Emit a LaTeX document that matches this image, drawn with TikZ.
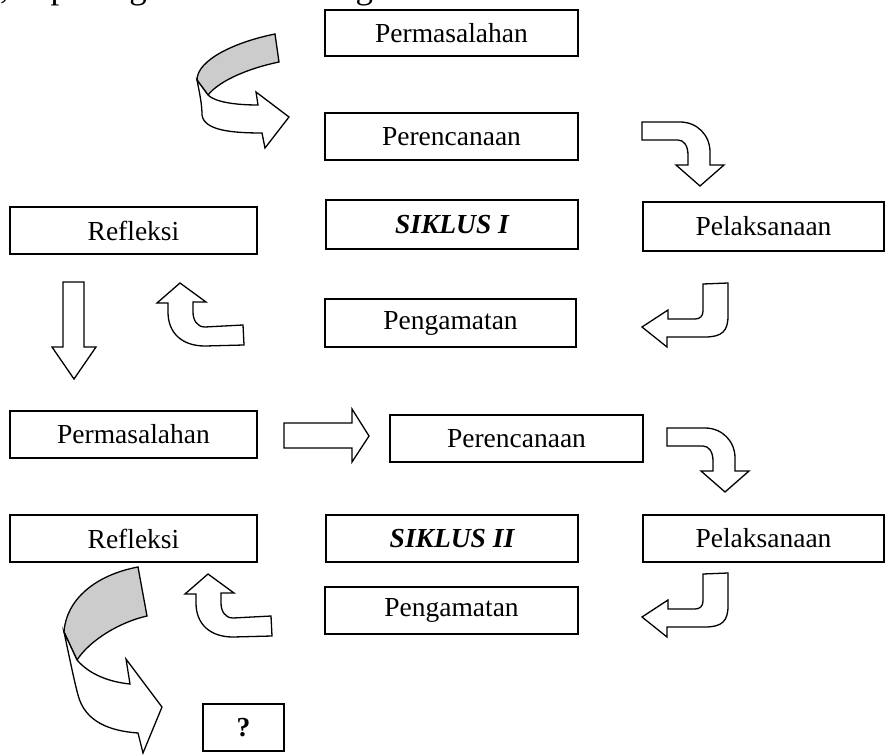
\documentclass[tikz,border=0pt]{standalone}
\usepackage{fontspec}
\setmainfont{Liberation Serif}
\tikzset{
  box/.style={draw, line width=1.4, minimum width=#1, minimum height=47, inner sep=0,
    font=\fontsize{27.5}{33}\selectfont},
  blk/.style={draw, line width=1.3, fill=white, line join=miter},
  ribbongray/.style={draw, line width=1.3, fill=gray!40, line join=miter},
}
\newcommand\bentRD{(642,122) -- (680,122) .. controls (697,122) and (710,135) .. (710,152) -- (710,165) -- (724,165) -- (700,186) -- (676,165) -- (688,165) -- (688,155) .. controls (688,146) and (684,140) .. (678,140) -- (642,140) -- cycle}
\newcommand\bentDL{(703,284) -- (728,283) -- (728,316) .. controls (728,331) and (722,337) .. (705,337) -- (667,337) -- (667,347) -- (642,327) -- (668,310) -- (668,319) -- (695,319) .. controls (700,319) and (703,316) .. (703,311) -- cycle}
\newcommand\curvUp{(168,303) -- (168,312) .. controls (168,333) and (182,346) .. (205,346) -- (244,345) -- (243,325) -- (205,327) .. controls (197,327) and (193,320) .. (193,312) -- (193,302) -- (206,302) -- (180,283) -- (157,303) -- cycle}
\begin{document}
\begin{tikzpicture}[x=1pt,y=-1pt]
\useasboundingbox (0,0) rectangle (885,754);
\node[anchor=base west, inner sep=0, outer sep=0, font=\fontsize{35}{40}\selectfont] (intro) at (0,-1) {, dapat digambarkan sebagai berikut:};
% boxes
\node[box=253, minimum height=46] (perm1) at (451.5,33) {Permasalahan};
\node[box=253] (ren1) at (451.5,136.5) {Perencanaan};
\node[box=252, minimum height=49] (sik1) at (452,224.5) {\bfseries\itshape SIKLUS I};
\node[box=247] (ref1) at (133.5,230.5) {Refleksi};
\node[box=241, minimum height=49] (pel1) at (763.5,226.5) {Pelaksanaan};
\node[box=251, minimum height=48] (ama1) at (450.5,323) {Pengamatan};
\node[box=247] (perm2) at (133.5,434.5) {Permasalahan};
\node[box=253] (ren2) at (516.5,438.5) {Perencanaan};
\node[box=247] (ref2) at (133.5,538.5) {Refleksi};
\node[box=252] (sik2) at (452,538.5) {\bfseries\itshape SIKLUS II};
\node[box=241] (pel2) at (763.5,538.5) {Pelaksanaan};
\node[box=253] (ama2) at (451.5,610.5) {Pengamatan};
\node[box=81] (q) at (243.5,727.5) {\bfseries ?};
% top ribbon arrow
\draw[ribbongray] (275,34) -- (279,62) .. controls (250,68) and (220,80) .. (208,95) -- (197,80) .. controls (197,60) and (235,42) .. (275,34) -- cycle;
\draw[blk] (197,80) .. controls (200,95) and (202,105) .. (202,115) .. controls (204,130) and (230,133) .. (262,133) -- (265,148) -- (289,117) -- (256,92) -- (258,105) .. controls (235,105) and (215,102) .. (208,95) -- cycle;
% bent arrows
\draw[blk] \bentRD;
\draw[blk] \bentDL;
\draw[blk] (63,282) -- (84,282) -- (84,347) -- (96,347) -- (74,379) -- (52,347) -- (63,347) -- cycle;
\draw[blk] \curvUp;
\draw[blk] (284,423) -- (352,423) -- (352,409) -- (369,436) -- (352,462) -- (352,448) -- (284,448) -- cycle;
\begin{scope}[shift={(25,306)}]
\draw[blk] \bentRD;
\end{scope}
\begin{scope}[shift={(0,290)}]
\draw[blk] \bentDL;
\end{scope}
\begin{scope}[shift={(28,291)}]
\draw[blk] \curvUp;
\end{scope}
% bottom ribbon arrow
\draw[ribbongray] (138,567) -- (147,616) .. controls (120,622) and (90,640) .. (77,660) -- (64,632) .. controls (66,600) and (95,575) .. (138,567) -- cycle;
\draw[blk] (64,632) .. controls (70,660) and (74,680) .. (78,695) .. controls (85,722) and (110,731) .. (138,733) -- (143,753) -- (162,707) -- (126,659) -- (130,684) .. controls (110,682) and (90,675) .. (77,660) -- cycle;
\end{tikzpicture}
\end{document}
